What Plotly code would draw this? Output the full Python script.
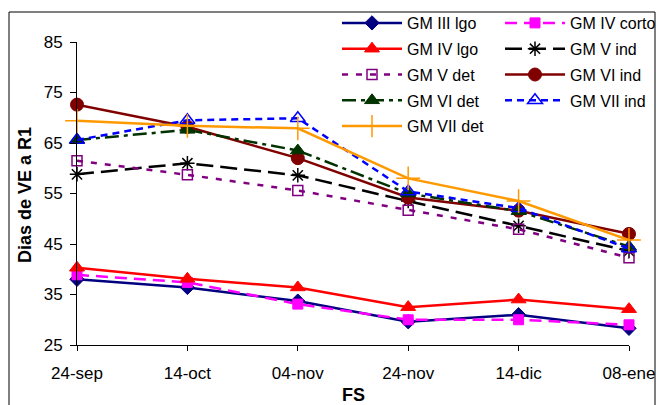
import plotly.graph_objects as go

fs = ["24-sep", "14-oct", "04-nov", "24-nov", "14-dic", "08-ene"]
gm_iii_lgo = [38.0, 36.4, 33.7, 29.6, 31.0, 28.3]
gm_iv_corto = [38.9, 37.4, 33.1, 30.0, 30.0, 29.0]
gm_iv_lgo = [40.3, 38.1, 36.4, 32.5, 34.0, 32.1]
gm_v_ind = [58.8, 61.0, 58.6, 53.5, 48.6, 43.6]
gm_v_det = [61.5, 58.7, 55.6, 51.7, 47.9, 42.3]
gm_vi_ind = [72.6, 68.2, 62.0, 54.2, 51.6, 47.0]
gm_vi_det = [65.6, 67.6, 63.5, 55.0, 51.5, 44.5]
gm_vii_ind = [65.6, 69.5, 69.9, 55.4, 52.1, 44.1]
gm_vii_det = [69.4, 68.4, 67.9, 58.0, 53.5, 45.8]

series = [
    ("GM III lgo", gm_iii_lgo, "#000080", "solid", "diamond", 11, "#000080", 1, "legend"),
    ("GM IV corto", gm_iv_corto, "#FF00FF", "12px,7px", "square", 10, "#FF00FF", 1, "legend2"),
    ("GM IV lgo", gm_iv_lgo, "#FF0000", "solid", "triangle-up", 13, "#FF0000", 1, "legend"),
    ("GM V ind", gm_v_ind, "#000000", "17px,7px", "asterisk-open", 12, "#000000", 1.5, "legend2"),
    ("GM V det", gm_v_det, "#800080", "6px,8px", "square-open", 10, "#800080", 1.5, "legend"),
    ("GM VI ind", gm_vi_ind, "#800000", "solid", "circle", 13, "#800000", 1, "legend2"),
    ("GM VI det", gm_vi_det, "#003300", "14px,5px,4px,5px", "triangle-up", 13, "#003300", 1, "legend"),
    ("GM VII ind", gm_vii_ind, "#0000FF", "7px,5px", "triangle-up-open", 13, "#0000FF", 1.5, "legend2"),
    ("GM VII det", gm_vii_det, "#FF9900", "solid", "cross-thin-open", 17, "#FF9900", 1.5, "legend"),
]

fig = go.Figure()
for i, (name, vals, color, dash, sym, size, mcol, mlw, leg) in enumerate(series):
    fig.add_trace(go.Scatter(
        x=fs, y=vals, name=name, mode="lines+markers",
        line=dict(color=color, width=2.5, dash=dash),
        marker=dict(symbol=sym, size=size, color=mcol, line=dict(color=mcol, width=mlw)),
        cliponaxis=False, legend=leg, legendgroup="g%d" % i,
    ))

W, H = 658, 405
L, R, T, B = 77, 29, 42, 60
pw, ph = W - L - R, H - T - B

def px_x(x):
    return (x - L) / pw

def px_y(y):
    return (H - B - y) / ph

font = "Liberation Sans, Arial, sans-serif"
fig.update_layout(
    width=W, height=H,
    margin=dict(l=L, r=R, t=T, b=B, autoexpand=False),
    paper_bgcolor="white", plot_bgcolor="white",
    font=dict(family=font, color="black"),
    showlegend=True,
    legend=dict(x=px_x(337), y=px_y(6), xanchor="left", yanchor="top",
                bgcolor="rgba(0,0,0,0)", font=dict(size=16, family=font),
                itemwidth=60, traceorder="grouped", tracegroupgap=2,
                itemclick=False),
    legend2=dict(x=px_x(500), y=px_y(6), xanchor="left", yanchor="top",
                 bgcolor="rgba(0,0,0,0)", font=dict(size=16, family=font),
                 itemwidth=60, traceorder="grouped", tracegroupgap=2,
                 itemclick=False),
    xaxis=dict(type="category", range=[0, 5], showline=True, linecolor="black",
               linewidth=1, ticks="outside", ticklen=5, tickcolor="black",
               showgrid=False, zeroline=False, tickfont=dict(size=17),
               ticklabelstandoff=8),
    yaxis=dict(range=[25, 85], tick0=25, dtick=10, showline=True, linecolor="black",
               linewidth=1, ticks="outside", ticklen=6, tickcolor="black",
               showgrid=False, zeroline=False, tickfont=dict(size=17),
               ticklabelstandoff=4),
    annotations=[
        dict(text="<b>Dias de VE a R1</b>", x=px_x(25), y=px_y(195), xref="paper", yref="paper",
             textangle=-90, showarrow=False, font=dict(size=18), xanchor="center", yanchor="middle"),
        dict(text="<b>FS</b>", x=px_x(353), y=px_y(395), xref="paper", yref="paper",
             showarrow=False, font=dict(size=18), xanchor="center", yanchor="middle"),
    ],
    shapes=[
        dict(type="rect", xref="paper", yref="paper", x0=px_x(9), x1=px_x(655),
             y0=px_y(440), y1=px_y(12), line=dict(color="black", width=1), layer="below"),
    ],
)

fig.write_html("out.html")
